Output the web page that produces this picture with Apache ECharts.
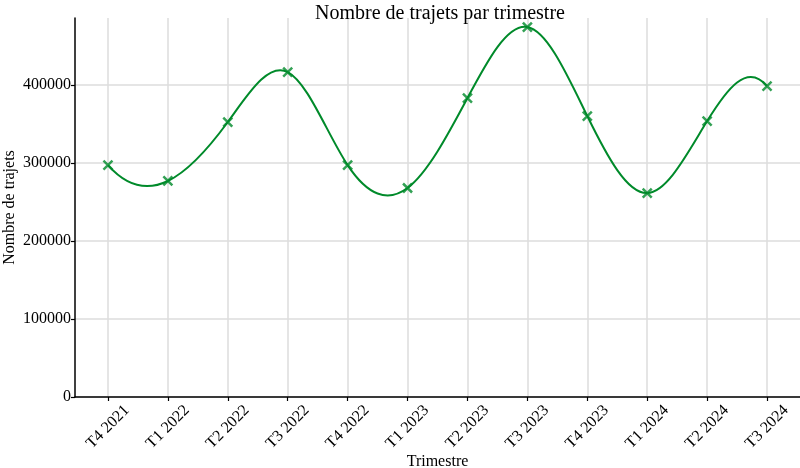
<!DOCTYPE html>
<html>
<head>
<meta charset="utf-8">
<script src="https://cdn.jsdelivr.net/npm/echarts@6/dist/echarts.min.js"></script>
<style>html,body{margin:0;padding:0;background:#fff}#c{width:800px;height:468px}</style>
</head>
<body>
<div id="c"></div>
<script>
const categories = ['T4 2021','T1 2022','T2 2022','T3 2022','T4 2022','T1 2023','T2 2023','T3 2023','T4 2023','T1 2024','T2 2024','T3 2024'];
const trips = [297400, 277000, 352600, 416700, 297400, 268000, 383300, 474400, 360300, 261500, 353800, 398700];
const yTicks = [0, 100000, 200000, 300000, 400000];

const FONT = '"Liberation Serif", "Times New Roman", serif';
const GREEN = '#008a2a';
const xIdx = categories.map((c, i) => i);
const data = trips.map((v, i) => [i, v]);

// Not-a-knot cubic spline through pixel points, returned as bezier control points per segment
function splineSegments(pts) {
  const n = pts.length;
  const xs = pts.map(p => p[0]), ys = pts.map(p => p[1]);
  const h = [];
  for (let i = 0; i < n - 1; i++) h.push(xs[i + 1] - xs[i]);
  const A = [], b = [];
  for (let i = 0; i < n; i++) { A.push(new Array(n).fill(0)); b.push(0); }
  A[0][0] = h[1]; A[0][1] = -(h[0] + h[1]); A[0][2] = h[0];
  for (let i = 1; i < n - 1; i++) {
    A[i][i - 1] = h[i - 1]; A[i][i] = 2 * (h[i - 1] + h[i]); A[i][i + 1] = h[i];
    b[i] = 6 * ((ys[i + 1] - ys[i]) / h[i] - (ys[i] - ys[i - 1]) / h[i - 1]);
  }
  A[n - 1][n - 3] = h[n - 2]; A[n - 1][n - 2] = -(h[n - 3] + h[n - 2]); A[n - 1][n - 1] = h[n - 3];
  for (let c = 0; c < n; c++) {
    let p = c;
    for (let r = c + 1; r < n; r++) if (Math.abs(A[r][c]) > Math.abs(A[p][c])) p = r;
    [A[c], A[p]] = [A[p], A[c]]; [b[c], b[p]] = [b[p], b[c]];
    for (let r = c + 1; r < n; r++) {
      const f = A[r][c] / A[c][c];
      if (!f) continue;
      for (let k = c; k < n; k++) A[r][k] -= f * A[c][k];
      b[r] -= f * b[c];
    }
  }
  const M = new Array(n).fill(0);
  for (let r = n - 1; r >= 0; r--) {
    let s = b[r];
    for (let k = r + 1; k < n; k++) s -= A[r][k] * M[k];
    M[r] = s / A[r][r];
  }
  const segs = [];
  for (let i = 0; i < n - 1; i++) {
    const hi = h[i], d = (ys[i + 1] - ys[i]) / hi;
    const m0 = d - hi * (2 * M[i] + M[i + 1]) / 6;
    const m1 = d + hi * (M[i] + 2 * M[i + 1]) / 6;
    segs.push([xs[i], ys[i], xs[i] + hi / 3, ys[i] + m0 * hi / 3, xs[i + 1] - hi / 3, ys[i + 1] - m1 * hi / 3, xs[i + 1], ys[i + 1]]);
  }
  return segs;
}

const chart = echarts.init(document.getElementById('c'), null, {renderer: 'canvas'});
chart.setOption({
  backgroundColor: '#fff',
  animation: false,
  title: {
    text: 'Nombre de trajets par trimestre',
    left: 435, top: -1, textAlign: 'center',
    textStyle: {fontFamily: FONT, fontSize: 20, fontWeight: 'normal', color: '#000'}
  },
  grid: {left: 75, right: 0, top: 18, bottom: 71, containLabel: false, outerBoundsMode: 'none'},
  xAxis: {
    type: 'value', min: -0.55, max: 11.55,
    name: 'Trimestre', nameLocation: 'middle', nameGap: 57, nameMoveOverlap: false,
    nameTextStyle: {fontFamily: FONT, fontSize: 16, color: '#000'},
    axisLine: {show: true, onZero: false, lineStyle: {color: '#000', width: 1.5}},
    axisTick: {show: true, inside: false, length: 4, customValues: xIdx, lineStyle: {color: '#000', width: 1.2}},
    axisLabel: {
      customValues: xIdx, rotate: 45, align: 'center', verticalAlign: 'middle', margin: 30,
      fontFamily: FONT, fontSize: 16, color: '#000',
      formatter: v => categories[Math.round(v)]
    },
    splitLine: {show: true, lineStyle: {color: '#dddddd', width: 1.5}}
  },
  yAxis: {
    type: 'value', min: 0, max: 486000,
    name: 'Nombre de trajets', nameLocation: 'middle', nameGap: 57, nameRotate: 90, nameMoveOverlap: false,
    nameTextStyle: {fontFamily: FONT, fontSize: 16, color: '#000'},
    axisLine: {show: true, onZero: false, lineStyle: {color: '#000', width: 1.5}},
    axisTick: {show: true, inside: false, length: 4, customValues: yTicks, lineStyle: {color: '#000', width: 1.2}},
    axisLabel: {customValues: yTicks, margin: 4, fontFamily: FONT, fontSize: 16, color: '#000', formatter: v => String(v)},
    splitLine: {show: true, lineStyle: {color: '#dddddd', width: 1.5}}
  },
  series: [{
    type: 'custom',
    data: data,
    encode: {x: 0, y: 1},
    z: 2,
    renderItem: function (params, api) {
      const i = params.dataIndex;
      if (i >= data.length - 1) return null;
      const pts = data.map(d => api.coord(d));
      const s = splineSegments(pts)[i];
      return {
        type: 'path',
        shape: {pathData: 'M' + s[0] + ' ' + s[1] + ' C' + s[2] + ' ' + s[3] + ' ' + s[4] + ' ' + s[5] + ' ' + s[6] + ' ' + s[7]},
        style: {fill: null, stroke: GREEN, lineWidth: 2}
      };
    }
  }, {
    type: 'scatter',
    data: data,
    symbol: 'path://M0,0L10,10M10,0L0,10',
    symbolSize: 9,
    itemStyle: {color: 'transparent', borderColor: GREEN, borderWidth: 2.5},
    z: 3
  }]
});
</script>
</body>
</html>
